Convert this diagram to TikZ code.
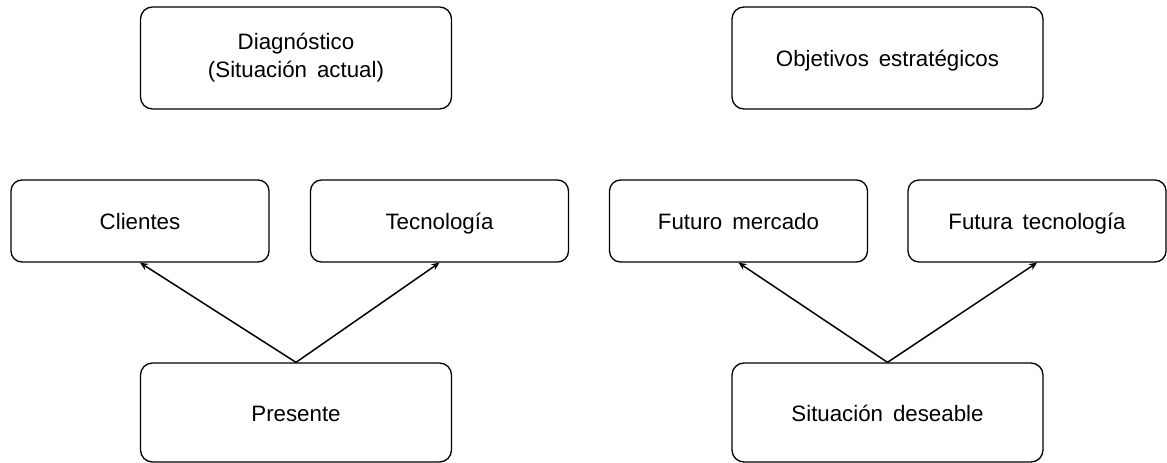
\documentclass[tikz,border=0pt]{standalone}
\usepackage{fontspec}
\setmainfont{Liberation Sans}[WordSpace=1.6]
\usetikzlibrary{arrows.meta}
\begin{document}
\begin{tikzpicture}[x=1pt,y=-1pt,
  bigbox/.style={draw, line width=1.3pt, rounded corners=12pt, minimum width=311pt, minimum height=102pt, inner sep=0pt, align=center, font=\fontsize{22.3}{28}\selectfont},
  midbox/.style={draw, line width=1.3pt, rounded corners=11pt, minimum width=258pt, minimum height=82pt, inner sep=0pt, text height=19pt, text depth=2pt, font=\fontsize{22.3}{28}\selectfont},
  onebox/.style={bigbox, text height=19pt, text depth=2pt},
  link/.style={line width=1.5pt, -{Stealth[length=8pt,width=7pt]}}]
\useasboundingbox (0,0) rectangle (1167,463);
\node[bigbox] (diag) at (296,58) {Diagnóstico\\(Situación actual)};
\node[onebox] (obj) at (887.5,58) {Objetivos estratégicos};
\node[midbox] (cli) at (140,221) {Clientes};
\node[midbox] (tec) at (439.5,221) {Tecnología};
\node[midbox] (fm) at (738.5,221) {Futuro mercado};
\node[midbox] (ft) at (1037,221) {Futura tecnología};
\node[onebox, minimum height=99pt] (pres) at (296,412.5) {Presente};
\node[onebox, minimum height=99pt] (sit) at (887.5,412.5) {Situación deseable};
\draw[link] (pres.north) -- (cli.south);
\draw[link] (pres.north) -- (tec.south);
\draw[link] (sit.north) -- (fm.south);
\draw[link] (sit.north) -- (ft.south);
\end{tikzpicture}
\end{document}
